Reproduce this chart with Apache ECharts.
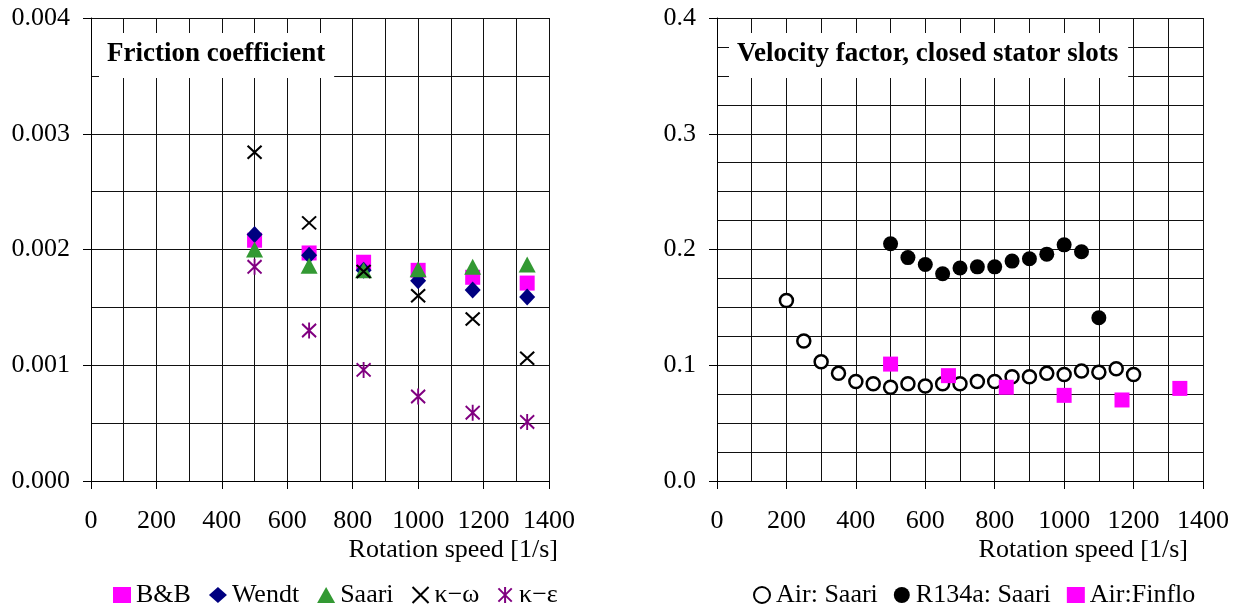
<!DOCTYPE html>
<html>
<head>
<meta charset="utf-8">
<script src="https://cdn.jsdelivr.net/npm/echarts@6/dist/echarts.min.js"></script>
<style>
html,body{margin:0;padding:0;background:#fff;}
#c{width:1243px;height:606px;}
</style>
</head>
<body>
<div id="c"></div>
<script>
// ---- Data ----
const speedsFriction = [500, 666.7, 833.3, 1000, 1166.7, 1333.3];
const bbValues     = [0.00208, 0.00197, 0.00189, 0.00182, 0.00176, 0.00171];
const wendtValues  = [0.00213, 0.00195, 0.00182, 0.00173, 0.00165, 0.00159];
const saariValues  = [0.00200, 0.00186, 0.00182, 0.00183, 0.00185, 0.00187];
const kwValues     = [0.00284, 0.00223, 0.00181, 0.00160, 0.00140, 0.00106];
const keValues     = [0.00185, 0.00130, 0.00096, 0.00073, 0.00059, 0.00051];

const speedsAirSaari = [200,250,300,350,400,450,500,550,600,650,700,750,800,850,900,950,1000,1050,1100,1150,1200];
const airSaariValues = [0.156,0.121,0.103,0.093,0.086,0.084,0.081,0.084,0.082,0.084,0.084,0.086,0.086,0.090,0.090,0.093,0.092,0.095,0.094,0.097,0.092];
const speedsR134a = [500,550,600,650,700,750,800,850,900,950,1000,1050,1100];
const r134aValues = [0.205,0.193,0.187,0.179,0.184,0.185,0.185,0.190,0.192,0.196,0.204,0.198,0.141];
const speedsFinflo = [500, 666.7, 833.3, 1000, 1166.7, 1333.3];
const finfloValues = [0.101, 0.091, 0.081, 0.074, 0.070, 0.080];

const xTicks = [0, 200, 400, 600, 800, 1000, 1200, 1400];
const leftTitle = 'Friction coefficient';
const rightTitle = 'Velocity factor, closed stator slots';
const xName = 'Rotation speed [1/s]';

function pairs(xs, ys){ return xs.map((x,i)=>[x, ys[i]]); }

const FONT = 'Liberation Serif';
const txt = {fontFamily: FONT, fontSize: 26, color: '#000'};
const gridLine = {color: '#111', width: 1};

function xAxisDef(gi, nameGap){
  return {
    type: 'value', gridIndex: gi, min: xTicks[0], max: xTicks[xTicks.length-1], interval: 200,
    axisLine: {show: true, onZero: false, lineStyle: {color: '#000', width: 1}},
    axisTick: {show: true, inside: false, length: 8, lineStyle: {color: '#000'}},
    axisLabel: Object.assign({margin: 27, formatter: v => String(v)}, txt),
    splitLine: {show: true, lineStyle: gridLine},
    minorTick: {show: false, splitNumber: 2},
    minorSplitLine: {show: true, lineStyle: gridLine},
    name: xName, nameLocation: 'end', nameGap: nameGap,
    nameTextStyle: Object.assign({align: 'right', verticalAlign: 'top', padding: [56, 0, 0, 0]}, txt)
  };
}
function yAxisDef(gi, max, interval, minorSplit, digits){
  return {
    type: 'value', gridIndex: gi, min: 0, max: max, interval: interval,
    axisLine: {show: true, onZero: false, lineStyle: {color: '#000', width: 1}},
    axisTick: {show: true, inside: false, length: 8, lineStyle: {color: '#000'}},
    axisLabel: Object.assign({margin: 21, formatter: v => v.toFixed(digits)}, txt),
    splitLine: {show: true, lineStyle: gridLine},
    minorTick: {show: false, splitNumber: minorSplit},
    minorSplitLine: {show: true, lineStyle: gridLine}
  };
}

const xPath = 'path://M0,0L10,10M10,0L0,10';
const starPath = 'path://M0,1L10,11M10,1L0,11M5,0L5,12';

const option = {
  backgroundColor: '#fff',
  animation: false,
  title: [
    {text: leftTitle, left: 99, top: 33, backgroundColor: '#fff', padding: [8, 9, 10, 8],
     textStyle: {fontFamily: FONT, fontSize: 27, fontWeight: 'bold', color: '#000'}},
    {text: rightTitle, left: 729, top: 33, backgroundColor: '#fff', padding: [8, 10, 10, 8],
     textStyle: {fontFamily: FONT, fontSize: 27, fontWeight: 'bold', color: '#000'}}
  ],
  grid: [
    {left: 91, top: 18, width: 458, height: 463},
    {left: 717, top: 18, width: 486, height: 463}
  ],
  xAxis: [xAxisDef(0, 9), xAxisDef(1, -15)],
  yAxis: [yAxisDef(0, 0.004, 0.001, 2, 3), yAxisDef(1, 0.4, 0.1, 4, 1)],
  legend: [
    {left: 108, top: 577, itemWidth: 18, itemHeight: 16, itemGap: 18,
     textStyle: txt, data: ['B&B', 'Wendt', 'Saari', 'κ−ω', 'κ−ε']},
    {left: 748, top: 577, itemWidth: 18, itemHeight: 16, itemGap: 16,
     textStyle: txt, data: ['Air: Saari', 'R134a: Saari', 'Air:Finflo']}
  ],
  series: [
    {name: 'B&B', type: 'scatter', xAxisIndex: 0, yAxisIndex: 0, symbol: 'rect', symbolSize: 15,
     itemStyle: {color: '#ff00ff', opacity: 1}, data: pairs(speedsFriction, bbValues)},
    {name: 'Wendt', type: 'scatter', xAxisIndex: 0, yAxisIndex: 0, symbol: 'diamond', symbolSize: [16, 17],
     itemStyle: {color: '#000080', opacity: 1}, data: pairs(speedsFriction, wendtValues)},
    {name: 'Saari', type: 'scatter', xAxisIndex: 0, yAxisIndex: 0, symbol: 'triangle', symbolSize: [17, 16],
     itemStyle: {color: '#339933', opacity: 1}, data: pairs(speedsFriction, saariValues)},
    {name: 'κ−ω', type: 'scatter', xAxisIndex: 0, yAxisIndex: 0, symbol: xPath, symbolSize: [14, 13],
     itemStyle: {color: 'rgba(0,0,0,0)', borderColor: '#000', borderWidth: 2, opacity: 1}, data: pairs(speedsFriction, kwValues)},
    {name: 'κ−ε', type: 'scatter', xAxisIndex: 0, yAxisIndex: 0, symbol: starPath, symbolSize: [14, 16],
     itemStyle: {color: 'rgba(0,0,0,0)', borderColor: '#800080', borderWidth: 2, opacity: 1}, data: pairs(speedsFriction, keValues)},

    {name: 'Air: Saari', type: 'scatter', xAxisIndex: 1, yAxisIndex: 1, symbol: 'circle', symbolSize: 13,
     itemStyle: {color: '#fff', borderColor: '#000', borderWidth: 2.5, opacity: 1}, data: pairs(speedsAirSaari, airSaariValues)},
    {name: 'R134a: Saari', type: 'scatter', xAxisIndex: 1, yAxisIndex: 1, symbol: 'circle', symbolSize: 15,
     itemStyle: {color: '#000', opacity: 1}, data: pairs(speedsR134a, r134aValues)},
    {name: 'Air:Finflo', type: 'scatter', xAxisIndex: 1, yAxisIndex: 1, symbol: 'rect', symbolSize: 15,
     itemStyle: {color: '#ff00ff', opacity: 1}, data: pairs(speedsFinflo, finfloValues)}
  ]
};

const chart = echarts.init(document.getElementById('c'), null, {renderer: 'canvas'});
chart.setOption(option);
</script>
</body>
</html>
